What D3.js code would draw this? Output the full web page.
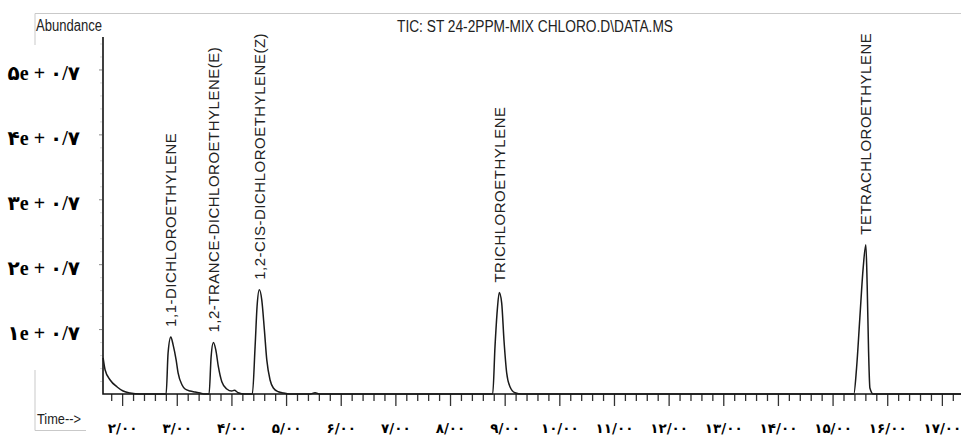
<!DOCTYPE html>
<html>
<head>
<meta charset="utf-8">
<script src="https://cdn.jsdelivr.net/npm/d3@7"></script>
<style>
  body { margin: 0; background: #fff; }
  .canvas svg { display: block; }
</style>
</head>
<body>
<div class="canvas"></div>
<script>
// TRACE (time in min, abundance in units of 1e7)
const traceTime = [
  1.652, 1.689, 1.781, 1.909, 2.018, 2.146, 2.33,
  2.805, 2.841, 2.891, 2.933, 2.988, 3.024, 3.097, 3.152, 3.244, 3.335, 3.427, 3.518,
  3.591, 3.628, 3.670, 3.714, 3.761, 3.824, 3.915, 4.007, 4.054, 4.122, 4.250,
  4.383, 4.433, 4.469, 4.511, 4.555, 4.603, 4.647, 4.707, 4.767, 4.859, 4.950, 5.073,
  5.44, 5.53, 5.62,
  8.781, 8.823, 8.865, 8.901, 8.945, 8.987, 9.037, 9.097, 9.189, 9.317,
  15.389, 15.439, 15.499, 15.560, 15.609, 15.633, 15.659, 15.683, 15.743,
  17.35
];
const traceAbundance = [
  0.556, 0.370, 0.216, 0.108, 0.046, 0.015, 0,
  0, 0.633, 0.880, 0.756, 0.525, 0.324, 0.139, 0.077, 0.046, 0.031, 0.015, 0,
  0, 0.571, 0.792, 0.679, 0.421, 0.190, 0.077, 0.046, 0.057, 0.020, 0,
  0, 0.730, 1.347, 1.605, 1.451, 0.988, 0.525, 0.216, 0.093, 0.035, 0.015, 0,
  0, 0.020, 0,
  0, 0.730, 1.296, 1.563, 1.404, 0.833, 0.324, 0.113, 0.020, 0,
  0, 0.401, 1.173, 1.944, 2.299, 1.682, 0.653, 0.093, 0,
  0
];

// PEAKS
const peakNames = [
  '1,1-DICHLOROETHYLENE',
  '1,2-TRANCE-DICHLOROETHYLENE(E)',
  '1,2-CIS-DICHLOROETHYLENE(Z)',
  'TRICHLOROETHYLENE',
  'TETRACHLOROETHYLENE'
];
const peakTimes = [2.891, 3.670, 4.511, 8.901, 15.609];
const peakHeights = [0.880, 0.792, 1.605, 1.563, 2.299];

// TICKS
const xTickValues = [2, 3, 4, 5, 6, 7, 8, 9, 10, 11, 12, 13, 14, 15, 16, 17];
const xTickLabels = ['۲/۰۰', '۳/۰۰', '۴/۰۰', '۵/۰۰', '۶/۰۰', '۷/۰۰', '۸/۰۰', '۹/۰۰',
  '۱۰/۰۰', '۱۱/۰۰', '۱۲/۰۰', '۱۳/۰۰', '۱۴/۰۰', '۱۵/۰۰', '۱۶/۰۰', '۱۷/۰۰'];
const yTickValues = [1, 2, 3, 4, 5];
const yTickLabels = ['۱e + ۰/۷', '۲e + ۰/۷', '۳e + ۰/۷', '۴e + ۰/۷', '۵e + ۰/۷'];

const title = 'TIC: ST 24-2PPM-MIX CHLORO.D\\DATA.MS';

const dims = { width: 961, height: 436 };
const plot = { left: 103, right: 961, top: 37, base: 394 };

const svg = d3
  .select('.canvas')
  .append('svg')
  .attr('width', dims.width)
  .attr('height', dims.height);

const x = d3.scaleLinear().domain([1.65, 17.35]).range([plot.left, plot.right]);
const y = d3.scaleLinear().domain([0, 5.5]).range([plot.base, plot.top]);

// GRAY FRAME PIECES
const frame = svg.append('g').attr('stroke', '#c9c9c9').attr('fill', 'none');
frame.append('path').attr('d', `M35,45V13.5H${dims.width}`);
frame.append('path').attr('d', 'M35,370V430.5H86');

// HEADER TEXTS
svg.append('text')
  .attr('x', 36).attr('y', 31)
  .attr('font-family', 'Liberation Sans, Arial, sans-serif')
  .attr('font-size', 16)
  .attr('textLength', 66).attr('lengthAdjust', 'spacingAndGlyphs')
  .attr('fill', '#222')
  .text('Abundance');

svg.append('text')
  .attr('x', 397).attr('y', 32)
  .attr('font-family', 'Liberation Sans, Arial, sans-serif')
  .attr('font-size', 16)
  .attr('textLength', 276).attr('lengthAdjust', 'spacingAndGlyphs')
  .attr('fill', '#222')
  .text(title);

svg.append('text')
  .attr('x', 37).attr('y', 424)
  .attr('font-family', 'Liberation Sans, Arial, sans-serif')
  .attr('font-size', 15)
  .attr('textLength', 44).attr('lengthAdjust', 'spacingAndGlyphs')
  .attr('fill', '#222')
  .text('Time-->');

// Y AXIS
const yMinor = d3.axisLeft(y)
  .tickValues(d3.range(0.2, 5.41, 0.2).filter((v) => Math.abs(v - Math.round(v)) > 0.01))
  .tickSize(2).tickFormat('');
svg.append('g')
  .attr('transform', `translate(${plot.left - 1}, 0)`)
  .call(yMinor)
  .call((g) => g.select('.domain').remove())
  .call((g) => g.selectAll('line').attr('stroke', '#d8d8d8'));

const yAxis = d3.axisLeft(y)
  .tickValues(yTickValues)
  .tickSize(3)
  .tickPadding(19)
  .tickFormat((d, i) => yTickLabels[i]);
svg.append('g')
  .attr('transform', `translate(${plot.left - 1}, 0)`)
  .call(yAxis)
  .call((g) => g.select('.domain').remove())
  .call((g) => g.selectAll('line').attr('stroke', '#888'))
  .call((g) => g.selectAll('text')
    .attr('dy', '0.5em')
    .attr('fill', '#000')
    .attr('font-family', 'Liberation Serif, DejaVu Sans, serif')
    .attr('font-weight', 'bold')
    .attr('font-size', 20));

// X AXIS
const xMinor = d3.axisBottom(x)
  .tickValues(d3.range(1.8, 17.21, 0.2).filter((v) => Math.abs(v - Math.round(v)) > 0.01))
  .tickSize(7).tickFormat('');
svg.append('g')
  .attr('transform', `translate(0, ${plot.base})`)
  .call(xMinor)
  .call((g) => g.select('.domain').remove())
  .call((g) => g.selectAll('line').attr('stroke', '#333').attr('stroke-width', 1.3));

const xAxis = d3.axisBottom(x)
  .tickValues(xTickValues)
  .tickSize(12)
  .tickPadding(17)
  .tickFormat((d, i) => xTickLabels[i]);
svg.append('g')
  .attr('transform', `translate(0, ${plot.base})`)
  .call(xAxis)
  .call((g) => g.select('.domain').remove())
  .call((g) => g.selectAll('line').attr('stroke', '#333').attr('stroke-width', 1.3))
  .call((g) => g.selectAll('text')
    .attr('fill', '#000')
    .attr('font-family', 'DejaVu Sans, sans-serif')
    .attr('font-weight', 'bold')
    .attr('font-size', 13.5)
    .attr('letter-spacing', 0.6));

// AXIS LINES
svg.append('path')
  .attr('d', `M${plot.left},${plot.top}V${plot.base}H${plot.right}`)
  .attr('fill', 'none')
  .attr('stroke', '#111')
  .attr('stroke-width', 1.6);

// TRACE
const points = traceTime.map((t, i) => [t, traceAbundance[i]]);
const line = d3.line()
  .x((d) => x(d[0]))
  .y((d) => y(d[1]))
  .curve(d3.curveMonotoneX);

svg.append('path')
  .datum(points)
  .attr('d', line)
  .attr('fill', 'none')
  .attr('stroke', '#1a1a1a')
  .attr('stroke-width', 1.5)
  .attr('stroke-linejoin', 'round');

// PEAK LABELS
svg.append('clipPath').attr('id', 'labelClip')
  .append('rect')
  .attr('x', 0).attr('y', 34)
  .attr('width', dims.width).attr('height', dims.height);

svg.append('g')
  .attr('clip-path', 'url(#labelClip)')
  .selectAll('text')
  .data(peakNames)
  .enter()
  .append('text')
  .attr('transform', (d, i) => `translate(${x(peakTimes[i])}, ${y(peakHeights[i]) - 10}) rotate(-90)`)
  .attr('dy', '0.35em')
  .attr('font-family', 'Liberation Sans, Arial, sans-serif')
  .attr('font-size', 15)
  .attr('letter-spacing', 0.5)
  .attr('fill', '#222')
  .text((d) => d);
</script>
</body>
</html>
